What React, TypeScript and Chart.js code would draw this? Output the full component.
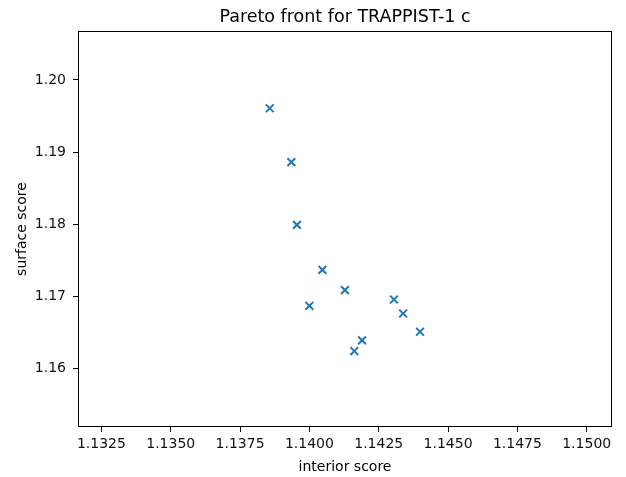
import React, { useEffect, useRef } from "react";
import { Chart, registerables } from "chart.js";

Chart.register(...registerables);

const TITLE = "Pareto front for TRAPPIST-1 c";
const X_LABEL = "interior score";
const Y_LABEL = "surface score";

const interiorScore = [1.13857, 1.13935, 1.13955, 1.14047, 1.14128, 1.14, 1.14305, 1.14338, 1.14399, 1.1419, 1.14162];
const surfaceScore = [1.19608, 1.18861, 1.17993, 1.1737, 1.17089, 1.16872, 1.16959, 1.16765, 1.16512, 1.16392, 1.16245];

const xTicks = [1.1325, 1.135, 1.1375, 1.14, 1.1425, 1.145, 1.1475, 1.15];
const yTicks = [1.16, 1.17, 1.18, 1.19, 1.2];

const X_MIN = 1.131656;
const X_MAX = 1.150912;
const Y_MIN = 1.15193;
const Y_MAX = 1.20678;

const FONT = "'DejaVu Sans', sans-serif";

const framePlugin = {
  id: "frame",
  afterDraw(chart: any) {
    const { ctx, chartArea } = chart;
    const { left, right, top, bottom } = chartArea;
    ctx.save();
    ctx.strokeStyle = "#000";
    ctx.lineWidth = 1;
    ctx.strokeRect(Math.round(left) + 0.5, Math.round(top) + 0.5, Math.round(right - left) - 1, Math.round(bottom - top) - 1);
    ctx.fillStyle = "#000";
    ctx.textAlign = "center";
    ctx.textBaseline = "alphabetic";
    const cx = (left + right) / 2;
    ctx.font = `17.5px ${FONT}`;
    ctx.fillText(TITLE, cx, 21.5);
    ctx.font = `14px ${FONT}`;
    ctx.fillText(X_LABEL, cx, 470.5);
    ctx.save();
    ctx.translate(26, (top + bottom) / 2);
    ctx.rotate(-Math.PI / 2);
    ctx.fillText(Y_LABEL, 0, 0);
    ctx.restore();
    ctx.restore();
  },
};

export default function App() {
  const ref = useRef<HTMLCanvasElement>(null);
  useEffect(() => {
    if (!ref.current) return;
    const data = interiorScore.map((x, i) => ({ x, y: surfaceScore[i] }));
    const chart = new Chart(ref.current, {
      type: "scatter",
      data: {
        datasets: [
          {
            data,
            pointStyle: "crossRot",
            pointRadius: 5.5,
            pointHoverRadius: 5.5,
            borderWidth: 2,
            borderColor: "#1f77b4",
            backgroundColor: "#1f77b4",
          },
        ],
      },
      options: {
        animation: false,
        responsive: true,
        maintainAspectRatio: false,
        layout: { padding: { top: 31, right: 14, left: 0, bottom: 0 } },
        plugins: { legend: { display: false }, tooltip: { enabled: false }, title: { display: false } },
        scales: {
          x: {
            type: "linear",
            min: X_MIN,
            max: X_MAX,
            afterBuildTicks: (s: any) => {
              s.ticks = xTicks.map((v) => ({ value: v }));
            },
            afterFit: (s: any) => {
              s.height = 50;
            },
            grid: { drawOnChartArea: false, color: "#000", tickLength: 5, tickWidth: 1 },
            border: { display: false },
            ticks: {
              color: "#111",
              font: { family: FONT, size: 14 },
              padding: 4,
              maxRotation: 0,
              autoSkip: false,
              callback: (v: any) => Number(v).toFixed(4),
            },
          },
          y: {
            type: "linear",
            min: Y_MIN,
            max: Y_MAX,
            afterBuildTicks: (s: any) => {
              s.ticks = yTicks.map((v) => ({ value: v }));
            },
            afterFit: (s: any) => {
              s.width = 78;
            },
            grid: { drawOnChartArea: false, color: "#000", tickLength: 5, tickWidth: 1 },
            border: { display: false },
            ticks: {
              color: "#111",
              font: { family: FONT, size: 14 },
              padding: 7,
              autoSkip: false,
              callback: (v: any) => Number(v).toFixed(2),
            },
          },
        },
      },
      plugins: [framePlugin],
    });
    return () => chart.destroy();
  }, []);
  return (
    <div style={{ position: "absolute", left: 0, top: 0, width: 626, height: 477, background: "#fff" }}>
      <canvas ref={ref} />
    </div>
  );
}
